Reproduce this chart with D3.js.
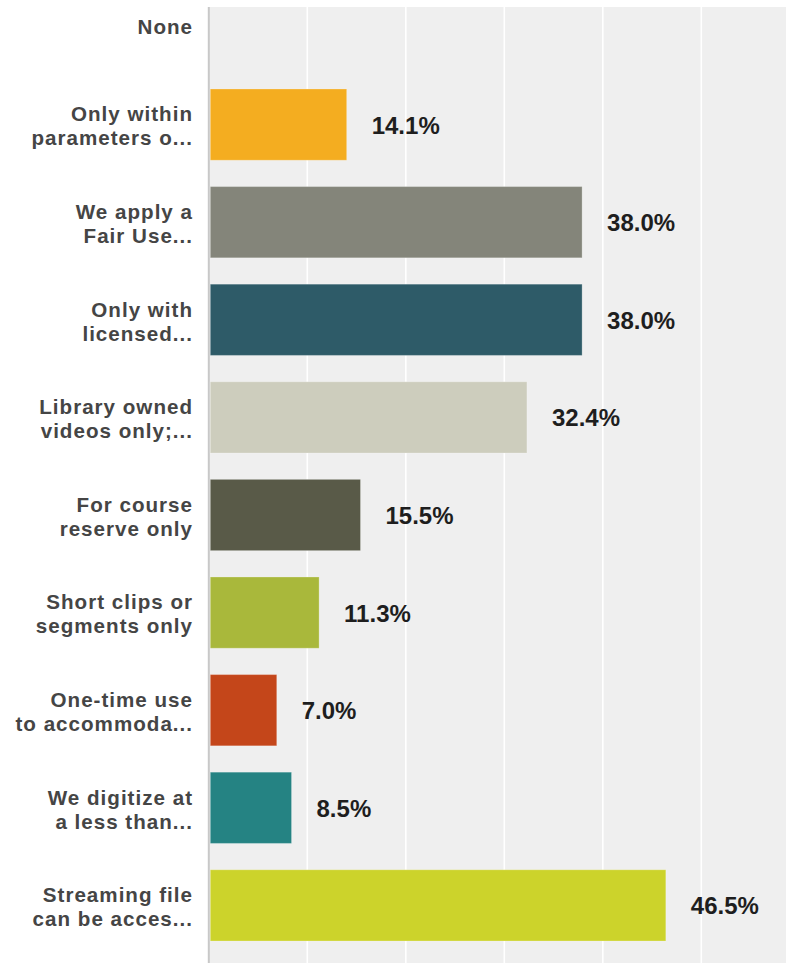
<!DOCTYPE html>
<html>
<head>
<meta charset="utf-8">
<script src="https://cdn.jsdelivr.net/npm/d3@7"></script>
<style>
  html, body { margin: 0; padding: 0; background: #ffffff; overflow: hidden; }
  svg { display: block; }
</style>
</head>
<body>
<div id="chart"></div>
<script>
// ---- data ----
const categories = [
  "None",
  "Only within parameters o...",
  "We apply a Fair Use...",
  "Only with licensed...",
  "Library owned videos only;...",
  "For course reserve only",
  "Short clips or segments only",
  "One-time use to accommoda...",
  "We digitize at a less than...",
  "Streaming file can be acces..."
];
const labelLines = [
  ["None"],
  ["Only within", "parameters o..."],
  ["We apply a", "Fair Use..."],
  ["Only with", "licensed..."],
  ["Library owned", "videos only;..."],
  ["For course", "reserve only"],
  ["Short clips or", "segments only"],
  ["One-time use", "to accommoda..."],
  ["We digitize at", "a less than..."],
  ["Streaming file", "can be acces..."]
];
const values = [0, 14.1, 38.0, 38.0, 32.4, 15.5, 11.3, 7.0, 8.5, 46.5];
const barColors = ["#999999", "#F4AD20", "#84857A", "#2E5B68", "#CDCDBD",
                   "#595A48", "#A9B83B", "#C4461A", "#258383", "#CCD32B"];
const gridTicks = [10, 20, 30, 40, 50, 60];

// ---- layout ----
const W = 786, H = 963;
const svg = d3.select("#chart").append("svg").attr("width", W).attr("height", H);

const x = d3.scaleLinear().domain([0, 60]).range([208.8, 208.8 + 591]);
const y = d3.scaleBand().domain(categories).range([-21.8, 954.2])
  .paddingInner(0.27).paddingOuter(0.135);

const plotTop = 7, plotBottom = 980;

// plot background
svg.append("rect")
  .attr("x", x(0)).attr("y", plotTop)
  .attr("width", W - x(0) + 20).attr("height", plotBottom - plotTop)
  .attr("fill", "#EFEFEF");

// gridlines
svg.append("g").selectAll("line").data(gridTicks).join("line")
  .attr("x1", d => x(d)).attr("x2", d => x(d))
  .attr("y1", plotTop).attr("y2", plotBottom)
  .attr("stroke", "#ffffff").attr("stroke-width", 1.6);

// axis line
svg.append("line")
  .attr("x1", x(0)).attr("x2", x(0))
  .attr("y1", plotTop).attr("y2", plotBottom)
  .attr("stroke", "#C8C8C8").attr("stroke-width", 2);

// data rows
const rows = categories.map((c, i) => ({ c, v: values[i], color: barColors[i], lines: labelLines[i] }));

// bars
svg.append("g").selectAll("rect").data(rows.filter(d => d.v > 0)).join("rect")
  .attr("x", x(0) + 1.5)
  .attr("y", d => y(d.c))
  .attr("width", d => x(d.v) - x(0) - 2.5)
  .attr("height", y.bandwidth())
  .attr("fill", d => d.color)
  .attr("stroke", "rgba(255,255,255,0.25)")
  .attr("stroke-width", 1);

// value labels
svg.append("g").selectAll("text").data(rows.filter(d => d.v > 0)).join("text")
  .attr("x", d => x(d.v) + 24)
  .attr("y", d => y(d.c) + y.bandwidth() / 2 + 9)
  .attr("font-family", "'Liberation Sans', Arial, Helvetica, sans-serif")
  .attr("font-weight", "bold")
  .attr("font-size", 24)
  .attr("fill", "#1E1E1E")
  .text(d => d.v.toFixed(1) + "%");

// category labels
const ls = 1;
const catG = svg.append("g");
rows.forEach(d => {
  const cy = y(d.c) + y.bandwidth() / 2;
  const t = catG.append("text")
    .attr("text-anchor", "end")
    .attr("font-family", "'Liberation Sans', Arial, Helvetica, sans-serif")
    .attr("font-weight", "bold")
    .attr("font-size", 20.6)
    .attr("letter-spacing", ls)
    .attr("fill", "#454545");
  if (d.lines.length === 1) {
    t.append("tspan").attr("x", 192 + ls).attr("y", cy + 7).text(d.lines[0]);
  } else {
    t.append("tspan").attr("x", 192 + ls).attr("y", cy - 3.3).text(d.lines[0]);
    t.append("tspan").attr("x", 192 + ls).attr("y", cy + 20.7).text(d.lines[1]);
  }
});
</script>
</body>
</html>
